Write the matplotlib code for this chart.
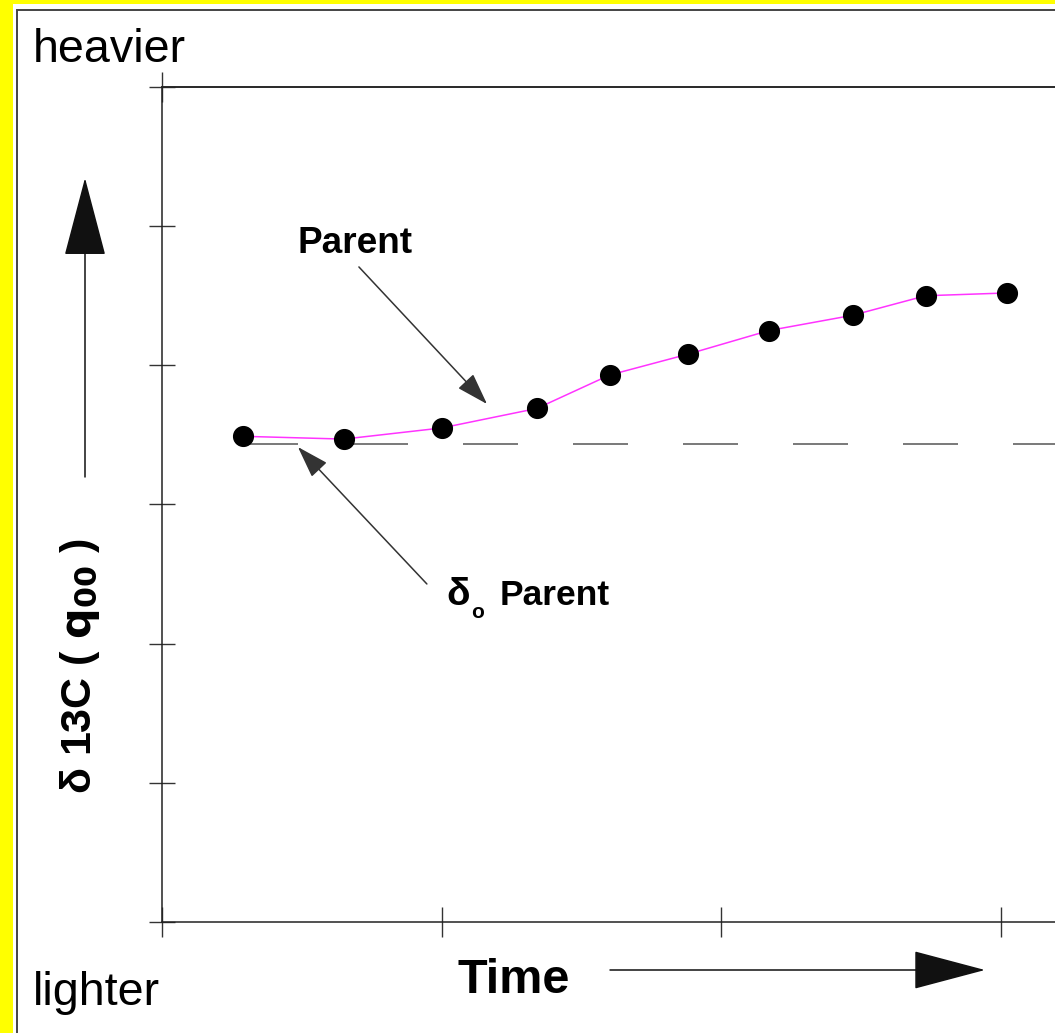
import matplotlib
matplotlib.use('Agg')
import matplotlib.pyplot as plt
from matplotlib.patches import Rectangle, FancyArrowPatch

# values (x in tick units, y in tick units)
time_vals = [0.29, 0.65, 1.00, 1.34, 1.60, 1.88, 2.17, 2.47, 2.73, 3.02]
parent_vals = [3.49, 3.47, 3.55, 3.69, 3.93, 4.08, 4.25, 4.36, 4.50, 4.52]
delta0_parent = 3.435
x_ticks = [0, 1, 2, 3]
y_ticks = [0, 1, 2, 3, 4, 5, 6]

plt.rcParams['font.family'] = ['Liberation Sans', 'DejaVu Sans']
plt.rcParams['lines.scale_dashes'] = False
plt.rcParams['mathtext.fontset'] = 'custom'
plt.rcParams['mathtext.bf'] = 'Liberation Sans Narrow:bold'
plt.rcParams['mathtext.rm'] = 'Liberation Sans Narrow'

W, H = 1055, 1033

def fx(px):
    return px / W

def fy(py):
    return 1 - py / H

fig = plt.figure(figsize=(10.55, 10.33), dpi=100, facecolor='#ffff00')

# white panel, then the dark frame line a few pixels inside it
panel = Rectangle((fx(13), fy(1200)), (1200 - 13) / W, (1200 - 4) / H,
                  transform=fig.transFigure, facecolor='white',
                  edgecolor='none', zorder=0)
fig.add_artist(panel)
frame = Rectangle((fx(17), fy(1200)), (1200 - 17) / W, (1200 - 10) / H,
                  transform=fig.transFigure, facecolor='none',
                  edgecolor='#444444', lw=1.4, zorder=0.5)
fig.add_artist(frame)

ax_right = 1070
ax = fig.add_axes([fx(162), fy(922), (ax_right - 162) / W, (922 - 87) / H])
ax.patch.set_alpha(0)
ax.set_xlim(0, (ax_right - 162) / 279.7)
ax.set_ylim(0, 6)
ax.spines['right'].set_visible(False)
for s in ['left', 'top', 'bottom']:
    ax.spines[s].set_color('#222222')
    ax.spines[s].set_linewidth(1.1)
ax.set_xticks(x_ticks)
ax.set_yticks(y_ticks)
ax.set_xticklabels([])
ax.set_yticklabels([])
ax.tick_params(axis='x', direction='inout', length=21.6, width=1.0, color='#333333')
ax.tick_params(axis='y', direction='inout', length=19.4, width=1.0, color='#333333')

top = ax.secondary_xaxis('top')
top.set_xticks([0])
top.set_xticklabels([''])
top.tick_params(direction='inout', length=21.6, width=1.0, color='#333333')
top.spines['top'].set_color('#222222')
top.spines['top'].set_linewidth(1.1)

# dashed starting value line
ax.plot([time_vals[0], ax.get_xlim()[1]], [delta0_parent, delta0_parent],
        color='#555555', lw=1.1, dashes=(39.6, 39.6), zorder=2, clip_on=False)

ax.plot(time_vals, parent_vals, color='#ff33ff', lw=1.1, zorder=3)
ax.plot(time_vals, parent_vals, 'o', color='black', ms=14.2, zorder=4)

arrow_style = '-|>,head_length=2.0,head_width=0.65'
ax.annotate('', xy=(1.162, 3.722), xytext=(0.704, 4.707),
            arrowprops=dict(arrowstyle=arrow_style, color='#333333', lw=1.1,
                            shrinkA=0, shrinkB=0, mutation_scale=10))
ax.annotate('', xy=(0.486, 3.413), xytext=(0.947, 2.429),
            arrowprops=dict(arrowstyle=arrow_style, color='#333333', lw=1.1,
                            shrinkA=0, shrinkB=0, mutation_scale=10))

# texts
fig.text(fx(33), fy(62), 'heavier', fontsize=33.6, va='baseline', ha='left')
fig.text(fx(33), fy(1005), 'lighter', fontsize=33.6, va='baseline', ha='left')
fig.text(fx(458), fy(993), 'Time', fontsize=35, fontweight='bold', va='baseline', ha='left')
fig.text(fx(298), fy(253), 'Parent', fontsize=26.6, fontweight='bold', va='baseline', ha='left')
fig.text(fx(446), fy(605), 'δ', fontsize=28, fontweight='bold', va='baseline', ha='left')
fig.text(fx(471), fy(618), 'o', fontsize=15, fontweight='bold', va='baseline', ha='left')
fig.text(fx(500), fy(605), 'Parent', fontsize=25.5, fontweight='bold', va='baseline', ha='left')

fig.text(fx(91), fy(666), r'δ 13C ( $\mathbf{q_{00}}$ )', rotation=90, rotation_mode='anchor',
         ha='center', va='baseline', fontsize=31, fontweight='bold',
         family=['Liberation Sans Narrow', 'Liberation Sans', 'DejaVu Sans'])

# big direction arrows
up = FancyArrowPatch((fx(85), fy(477)), (fx(85), fy(178)), transform=fig.transFigure,
                     arrowstyle='-|>,head_length=5.2,head_width=1.37', mutation_scale=10,
                     color='#111111', lw=1.1, shrinkA=0, shrinkB=0)
fig.add_artist(up)
right = FancyArrowPatch((fx(610), fy(970)), (fx(985), fy(970)), transform=fig.transFigure,
                        arrowstyle='-|>,head_length=4.75,head_width=1.26', mutation_scale=10,
                        color='#111111', lw=1.1, shrinkA=0, shrinkB=0)
fig.add_artist(right)

fig.savefig('out.png', dpi=100, facecolor=fig.get_facecolor())
